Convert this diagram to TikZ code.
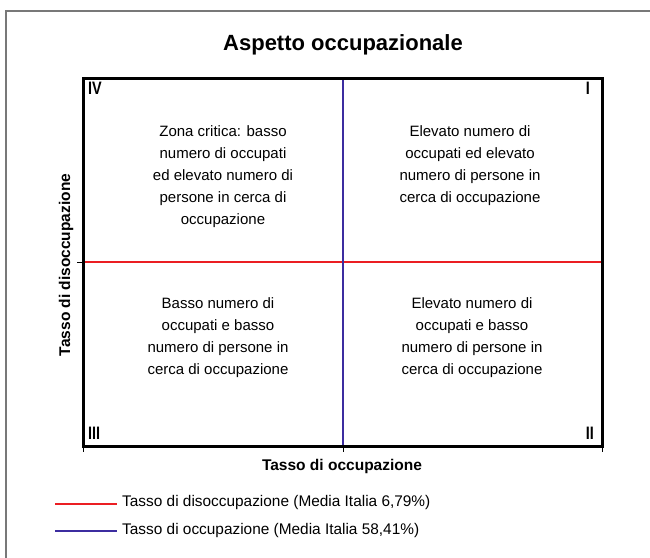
\documentclass[tikz,border=0pt]{standalone}
\usepackage{fontspec}
\setmainfont{Liberation Sans}
\newfontfamily\condbold[FakeStretch=0.8]{Liberation Sans Bold}
\definecolor{myred}{RGB}{235,30,35}
\definecolor{myblue}{RGB}{60,45,160}
\definecolor{framegray}{RGB}{120,120,120}
\begin{document}
\begin{tikzpicture}[x=1pt,y=-1pt,
  quad/.style={align=center,font=\fontsize{15}{22}\selectfont,inner sep=0},
  corner/.style={font=\condbold\fontsize{18}{18}\selectfont,inner sep=0},
  axislabel/.style={font=\fontsize{15.5}{18}\selectfont\bfseries,inner sep=0},
  legtext/.style={font=\fontsize{15.4}{18}\selectfont,inner sep=0,anchor=west},
  redline/.style={draw=myred,line width=2pt},
  blueline/.style={draw=myblue,line width=2pt},
  tick/.style={draw=black,line width=1pt}]
\useasboundingbox (0,0) rectangle (650,557);
\fill[white] (0,0) rectangle (650,557);
\draw[framegray,line width=1.5pt] (651,11) -- (6,11) -- (6,558);
\node[font=\fontsize{22}{26}\selectfont\bfseries,inner sep=0] (title) at (343,45) {Aspetto occupazionale};
% box coordinates
\coordinate (tl) at (83,78);
\coordinate (br) at (602,446);
\coordinate (bl) at (83,446);
\coordinate (tm) at (343,78);
\coordinate (bm) at (343,446);
\coordinate (ml) at (83,262);
\coordinate (mr) at (602,262);
\coordinate (tbl) at (83,452);
\coordinate (tbm) at (343,452);
\coordinate (tbr) at (602,452);
\coordinate (tml) at (77,262);
\draw[redline] (ml) -- (mr);
\draw[blueline] (tm) -- (bm);
\draw[line width=3pt] (tl) rectangle (br);
\draw[tick] (bl) -- (tbl);
\draw[tick] (bm) -- (tbm);
\draw[tick] (602,446) -- (tbr);
\draw[tick] (ml) -- (tml);
% corner labels
\node[corner,anchor=north west] (q4) at (88,82) {IV};
\node[corner,anchor=north east] (q1) at (590,82) {I};
\node[corner,anchor=south west] (q3) at (88,440) {III};
\node[corner,anchor=south east] (q2) at (594,440) {II};
% quadrant texts
\node[quad] (t4) at (223,177) {Zona critica: basso\\numero di occupati\\ed elevato numero di\\persone in cerca di\\occupazione};
\node[quad] (t1) at (470,166) {Elevato numero di\\occupati ed elevato\\numero di persone in\\cerca di occupazione};
\node[quad] (t3) at (218,338) {Basso numero di\\occupati e basso\\numero di persone in\\cerca di occupazione};
\node[quad] (t2) at (472,338) {Elevato numero di\\occupati e basso\\numero di persone in\\cerca di occupazione};
% axis labels
\node[axislabel] (xlab) at (342,466) {Tasso di occupazione};
\node[axislabel,rotate=90] (ylab) at (66,265) {Tasso di disoccupazione};
% legend
\coordinate (r1) at (55,504);
\coordinate (r2) at (117,504);
\coordinate (b1) at (55,531);
\coordinate (b2) at (117,531);
\draw[redline] (r1) -- (r2);
\draw[blueline] (b1) -- (b2);
\node[legtext] (lr) at (122,503) {Tasso di disoccupazione (Media Italia 6,79\%)};
\node[legtext] (lb) at (122,531) {Tasso di occupazione (Media Italia 58,41\%)};
\end{tikzpicture}
\end{document}
